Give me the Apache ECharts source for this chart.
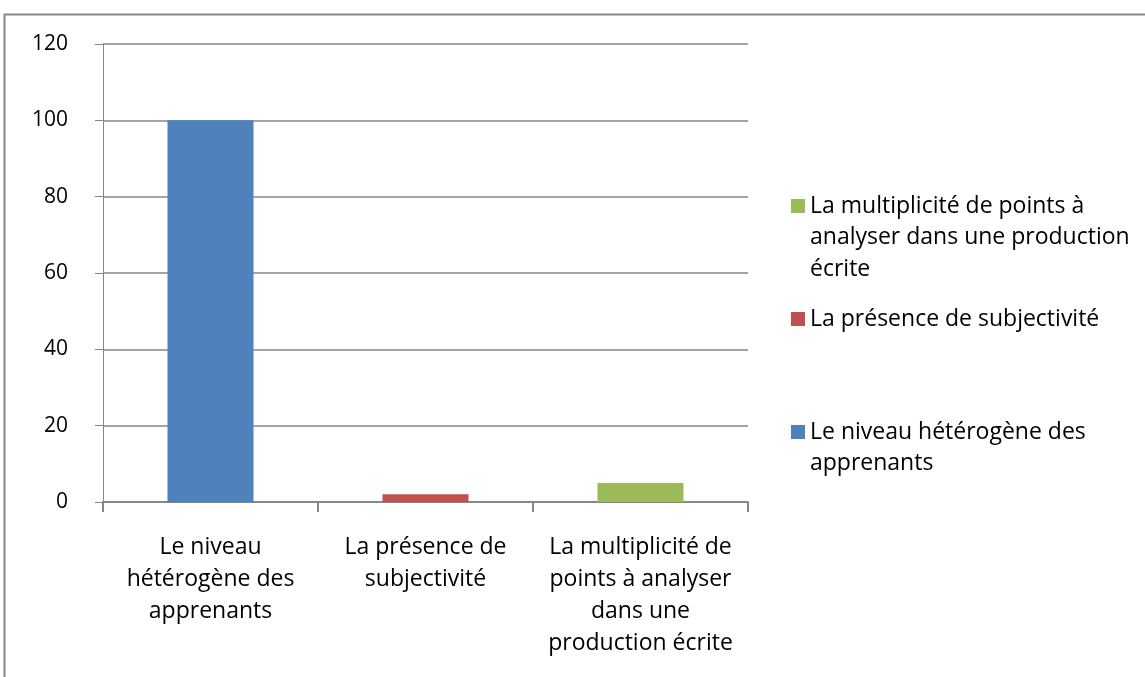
<!DOCTYPE html>
<html>
<head>
<meta charset="utf-8">
<script src="https://cdn.jsdelivr.net/npm/echarts@6/dist/echarts.min.js"></script>
<style>
  html, body { margin: 0; padding: 0; background: #fff; }
  #chart { width: 1145px; height: 677px; }
</style>
</head>
<body>
<div id="chart"></div>
<script>
  // categories on the x axis (Excel wraps them)
  const categories = [
    'Le niveau\nhétérogène des\napprenants',
    'La présence de\nsubjectivité',
    'La multiplicité de\npoints à analyser\ndans une\nproduction écrite'
  ];
  const seriesNames = [
    'Le niveau hétérogène des apprenants',
    'La présence de subjectivité',
    'La multiplicité de points à analyser dans une production écrite'
  ];
  const values = [100, 2, 5];
  const colors = ['#4F81BD', '#C0504D', '#9BBB59'];
  const yTicks = { min: 0, max: 120, interval: 20 };

  // legend text, wrapped like the original: first line beside the swatch, rest below
  const legendLines = [
    ['Le niveau hétérogène des', 'apprenants'],
    ['La présence de subjectivité'],
    ['La multiplicité de points à', 'analyser dans une production', 'écrite']
  ];

  const font = '"Open Sans", sans-serif';
  const fs = 23, lh = 31.5;
  const chart = echarts.init(document.getElementById('chart'));

  let series = seriesNames.map((name, i) => ({
    name: name,
    type: 'bar',
    stack: 'one',
    barWidth: '40%',
    data: categories.map((c, j) => (j === i ? values[i] : null)),
    itemStyle: { color: colors[i] }
  }));

  // legend items sit at uneven heights, like the Excel layout
  const legendTops = [416, 303, 190];
  const legendLeft = 791;
  let legends = seriesNames.map((name, i) => ({
    data: [name],
    left: legendLeft,
    top: legendTops[i],
    padding: 0,
    icon: 'rect',
    itemWidth: 14,
    itemHeight: 14,
    selectedMode: false,
    formatter: () => legendLines[i][0],
    textStyle: { fontFamily: font, fontSize: fs, color: '#000', lineHeight: 32 }
  }));

  let extraText = [];
  legendLines.forEach((lines, i) => {
    lines.slice(1).forEach((t, k) => {
      extraText.push({
        type: 'text',
        left: legendLeft + 19,
        top: legendTops[i] + lh * (k + 1),
        silent: true,
        style: { text: t, font: fs + 'px ' + font, fill: '#000', lineHeight: 32 }
      });
    });
  });

  let option = {
    animation: false,
    grid: { left: 103, right: 397, top: 44, bottom: 175 },
    legend: legends,
    graphic: [{
      type: 'rect',
      shape: { x: 4.5, y: 14.5, width: 1200, height: 700 },
      style: { fill: 'none', stroke: '#878787', lineWidth: 2 },
      silent: true
    }].concat(extraText),
    xAxis: {
      type: 'category',
      data: categories,
      axisLine: { lineStyle: { color: '#868686', width: 2 } },
      axisTick: { show: true, length: 10, inside: false, lineStyle: { color: '#868686', width: 2 } },
      axisLabel: {
        fontFamily: font, fontSize: fs, color: '#000', lineHeight: 32,
        margin: 29, interval: 0, verticalAlign: 'top'
      }
    },
    yAxis: {
      type: 'value',
      min: yTicks.min,
      max: yTicks.max,
      interval: yTicks.interval,
      axisLine: { show: true, lineStyle: { color: '#868686', width: 1 } },
      axisTick: { show: true, length: 8, lineStyle: { color: '#868686' } },
      axisLabel: { fontFamily: font, fontSize: 21, color: '#000', margin: 35 },
      splitLine: { lineStyle: { color: '#868686', width: 1.5 } }
    },
    series: series
  };
  chart.setOption(option);
</script>
</body>
</html>
